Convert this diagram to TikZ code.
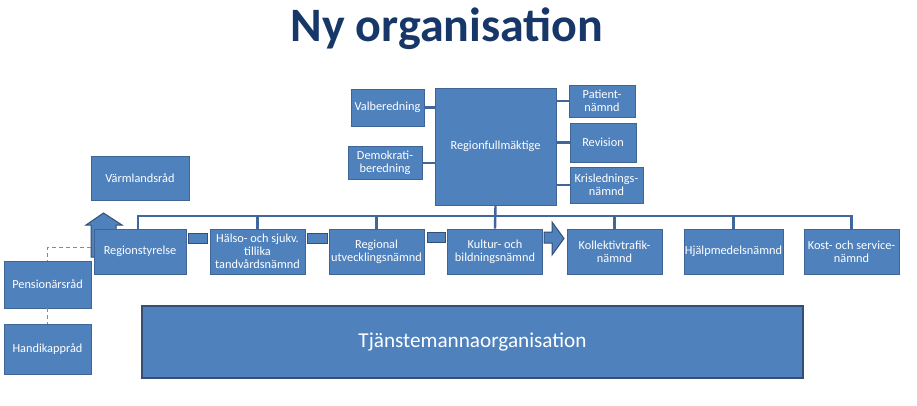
\documentclass[tikz,border=0pt]{standalone}
\usepackage{fontspec}
\setmainfont{Carlito}
\definecolor{boxfill}{RGB}{79,129,189}
\definecolor{boxedge}{RGB}{62,101,150}
\definecolor{bigedge}{RGB}{52,78,118}
\definecolor{linec}{RGB}{63,103,155}
\definecolor{titlec}{RGB}{23,55,104}
\definecolor{dashc}{RGB}{120,140,170}
\tikzset{
  orgbox/.style={rectangle, fill=boxfill, draw=boxedge, line width=0.6pt, text=white,
    align=center, inner sep=1pt, font=\fontsize{12.3}{13}\selectfont},
  barbox/.style={rectangle, fill=boxfill, draw=bigedge, line width=1pt, inner sep=0pt},
  conn/.style={draw=linec, line width=2.4pt},
  dashline/.style={draw=dashc, line width=1pt, dashed, dash pattern=on 4pt off 3pt},
  blockarrow/.style={fill=boxfill, draw=bigedge, line width=1pt, line join=miter},
}
\begin{document}
\begin{tikzpicture}[x=1pt,y=-1pt]
\useasboundingbox (0,0) rectangle (917,406);
\fill[white] (0,0) rectangle (917,406);

\node[anchor=base, text=titlec, font=\fontsize{48}{52}\selectfont\bfseries] (title) at (447,42) {Ny organisation};

% top group
\node[orgbox, minimum width=121pt, minimum height=117pt] (rfm) at (495.5,146.5) {Regionfullmäktige};
\node[orgbox, minimum width=73pt, minimum height=37pt] (valb) at (387.5,107.5) {Valberedning};
\node[orgbox, minimum width=74pt, minimum height=33pt] (demo) at (385,163) {Demokrati-\\beredning};
\node[orgbox, minimum width=66pt, minimum height=32pt] (pat) at (602,101) {Patient-\\nämnd};
\node[orgbox, minimum width=66pt, minimum height=39pt] (rev) at (603,142.5) {Revision};
\node[orgbox, minimum width=73pt, minimum height=36pt] (kris) at (606.5,185) {Krislednings-\\nämnd};

\draw[conn] (valb.east) -- (valb.east -| rfm.west);
\draw[conn] (demo.east) -- (demo.east -| rfm.west);
\draw[conn] (pat.west) -- (pat.west -| rfm.east);
\draw[conn] (rev.west) -- (rev.west -| rfm.east);
\draw[conn] (kris.west) -- (kris.west -| rfm.east);

\node[orgbox, minimum width=98pt, minimum height=44pt] (varm) at (140,178) {Värmlandsråd};

% up block arrow (behind Regionstyrelse)
\draw[blockarrow] (91,257) -- (91,225) -- (86,225) -- (103.5,213) -- (122,225) -- (116,225) -- (116,257) -- cycle;

% bottom row
\tikzset{rowbox/.style={orgbox, minimum width=95pt, minimum height=45pt}}
\node[orgbox, minimum width=92pt, minimum height=45pt] (rs) at (140,251.5) {Regionstyrelse};
\node[rowbox] (hs) at (257.5,251.5) {Hälso- och sjukv.\\tillika\\tandvårdsnämnd};
\node[rowbox] (ru) at (376.5,251.5) {Regional\\utvecklingsnämnd};
\node[rowbox] (kb) at (495,251.5) {Kultur- och\\bildningsnämnd};
\node[rowbox] (kt) at (614.5,251.5) {Kollektivtrafik-\\nämnd};
\node[rowbox] (hm) at (733.5,251.5) {Hjälpmedelsnämnd};
\node[rowbox] (ks) at (851.5,251.5) {Kost- och service-\\nämnd};

% bus
\coordinate (bus) at (0,216);
\draw[conn] (rs.north -| 138,0) |- (ks.north |- bus) -- (ks.north);
\draw[conn] (hs.north) -- (hs.north |- bus);
\draw[conn] (ru.north) -- (ru.north |- bus);
\draw[conn] (rfm.south) -- (kb.north);
\draw[conn] (kt.north) -- (kt.north |- bus);
\draw[conn] (hm.north) -- (hm.north |- bus);

% bars between boxes
\node[barbox, minimum width=19pt, minimum height=10pt] (bar1) at (197.5,238) {};
\node[barbox, minimum width=20pt, minimum height=10pt] (bar2) at (317,238) {};
\node[barbox, minimum width=18pt, minimum height=10pt] (bar3) at (436,237.5) {};
% right block arrow
\draw[blockarrow] (544,232) -- (552,232) -- (552,222) -- (564,238.5) -- (552,255) -- (552,243) -- (544,243) -- cycle;

% advisory councils
\node[orgbox, minimum width=87pt, minimum height=47pt] (pens) at (47.5,284.5) {Pensionärsråd};
\node[orgbox, minimum width=87pt, minimum height=50pt] (handi) at (47.5,349) {Handikappråd};
\coordinate (dstart) at (91,247);
\draw[dashline] (dstart) -| (pens.north);
\draw[dashline] (pens.south) -- (handi.north);

% officials
\node[orgbox, draw=bigedge, line width=1.6pt, minimum width=661pt, minimum height=72pt,
  font=\fontsize{21.2}{25}\selectfont] (tj) at (472.5,342) {Tjänstemannaorganisation};
\end{tikzpicture}
\end{document}
